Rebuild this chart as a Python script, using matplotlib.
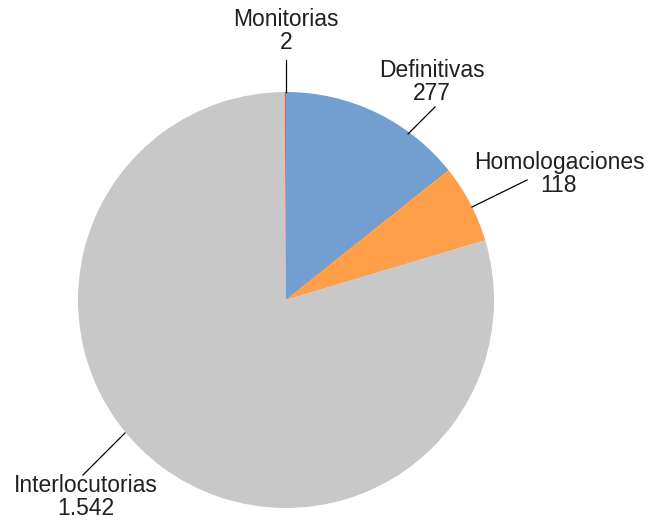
import matplotlib
matplotlib.use("Agg")
import matplotlib.pyplot as plt

categories = ["Definitivas", "Homologaciones", "Interlocutorias", "Monitorias"]
values = [277, 118, 1542, 2]
value_labels = ["277", "118", "1.542", "2"]
colors = ["#729FCF", "#FF9F4A", "#C8C8C8", "#E0605A"]

W, H = 648, 522
fig = plt.figure(figsize=(W / 100, H / 100), dpi=100)
ax = fig.add_axes([0, 0, 1, 1])
ax.set_xlim(0, W)
ax.set_ylim(0, H)
ax.set_aspect("equal")
ax.axis("off")

cx, cy, r = 286, H - 300, 208
ax.pie(values, colors=colors, startangle=90, counterclock=False,
       center=(cx, cy), radius=r, wedgeprops=dict(linewidth=0))
ax.set_xlim(0, W)
ax.set_ylim(0, H)

# label layout (pixel positions, y from top): text center, leader start, leader end
layout = {
    "Definitivas": ((432, 82), (408, 134), (435, 107)),
    "Homologaciones": ((559, 174), (472, 207), (527, 180)),
    "Interlocutorias": ((86, 497), (125, 433), (83, 475)),
    "Monitorias": ((286, 31), (286, 92), (286, 60)),
}
for cat, val in zip(categories, value_labels):
    (tx, ty), (sx, sy), (ex, ey) = layout[cat]
    ax.plot([sx, ex], [H - sy, H - ey], color="black", linewidth=0.9)
    ax.text(tx, H - ty, f"{cat}\n{val}", ha="center", va="center",
            fontsize=16.5, family="Liberation Sans", color="#202020",
            linespacing=1.0)

fig.savefig("out.png", dpi=100)
